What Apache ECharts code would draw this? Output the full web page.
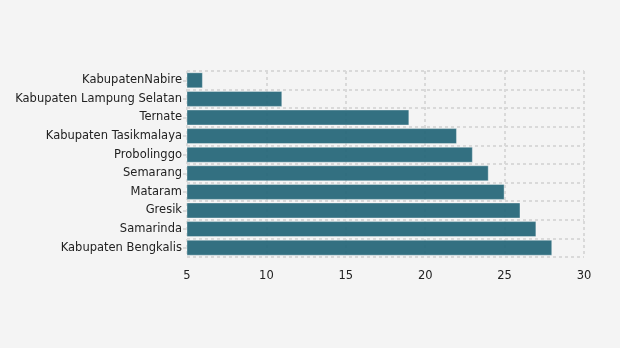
<!DOCTYPE html>
<html>
<head>
<meta charset="utf-8">
<script src="https://cdn.jsdelivr.net/npm/echarts@6/dist/echarts.min.js"></script>
<style>
  html, body { margin: 0; padding: 0; background: #f4f4f4; }
  #chart { width: 620px; height: 348px; }
</style>
</head>
<body>
<div id="chart"></div>
<script>
// Cities, listed bottom-to-top along the category axis
const cities = [
  'Kabupaten Bengkalis', 'Samarinda', 'Gresik', 'Mataram', 'Semarang',
  'Probolinggo', 'Kabupaten Tasikmalaya', 'Ternate', 'Kabupaten Lampung Selatan', 'KabupatenNabire'
];
const values = [28, 27, 26, 25, 24, 23, 22, 19, 11, 6];
const xTicks = [5, 10, 15, 20, 25, 30];

const chart = echarts.init(document.getElementById('chart'), null, { renderer: 'canvas' });
const font = "'DejaVu Sans'";
const gridLine = { show: true, lineStyle: { color: '#d9d9d9', type: [3, 3], width: 2 } };

chart.setOption({
  backgroundColor: '#f4f4f4',
  animation: false,
  grid: { left: 187, right: 36, top: 71, bottom: 91, containLabel: false },
  xAxis: {
    type: 'value',
    min: xTicks[0],
    max: xTicks[xTicks.length - 1],
    interval: 5,
    axisLine: { show: false },
    axisTick: { show: false },
    axisLabel: { color: '#222', fontSize: 11.5, fontFamily: font, margin: 13 },
    splitLine: gridLine
  },
  yAxis: {
    type: 'category',
    data: cities,
    axisLine: { show: false },
    axisTick: { show: true, alignWithLabel: true, length: 4, lineStyle: { color: '#d9d9d9', width: 2 } },
    axisLabel: { color: '#222', fontSize: 11.5, fontFamily: font, margin: 5 },
    splitLine: gridLine
  },
  series: [{
    type: 'bar',
    data: values,
    barCategoryGap: '14%',
    itemStyle: {
      color: 'rgba(30, 98, 116, 0.9)',
      borderColor: 'rgba(255,255,255,0.35)',
      borderWidth: 1
    }
  }]
});
</script>
</body>
</html>
